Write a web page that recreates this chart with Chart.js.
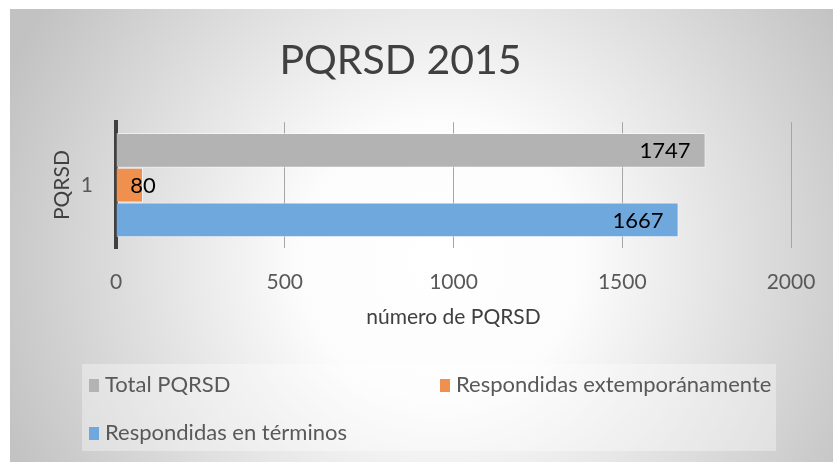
<!DOCTYPE html>
<html>
<head>
<meta charset="utf-8">
<script src="https://cdn.jsdelivr.net/npm/chart.js@4/dist/chart.umd.min.js"></script>
<style>
  html, body { margin: 0; padding: 0; background: #ffffff; }
  #wrap { width: 833px; height: 462px; position: relative; }
</style>
</head>
<body>
<div id="wrap"><canvas id="c" width="833" height="462"></canvas></div>
<script>
// ---- data ----
const categories = ["1"];
const seriesNames = ["Total PQRSD", "Respondidas extemporánamente", "Respondidas en términos"];
const totalValues = [1747];
const extemporaneasValues = [80];
const terminosValues = [1667];
const xTicks = [0, 500, 1000, 1500, 2000];
const chartTitle = "PQRSD 2015";
const xAxisTitle = "número de PQRSD";
const yAxisTitle = "PQRSD";

const colors = ["#b3b3b3", "#f0904f", "#6fa8dc"];
const FONT = "Lato, 'Open Sans', sans-serif";

const bgPlugin = {
  id: 'bg',
  beforeDraw(chart) {
    const ctx = chart.ctx;
    ctx.save();
    ctx.fillStyle = '#ffffff';
    ctx.fillRect(0, 0, chart.width, chart.height);
    const x0 = 10, y0 = 9, w = chart.width - x0, h = chart.height - y0;
    const g = ctx.createRadialGradient(440, 260, 0, 440, 260, 470);
    g.addColorStop(0, '#ffffff');
    g.addColorStop(0.3, '#fcfcfc');
    g.addColorStop(1, '#c2c2c2');
    ctx.fillStyle = g;
    ctx.fillRect(x0, y0, w, h);
    ctx.restore();
  }
};

const labelPlugin = {
  id: 'valueLabels',
  afterDatasetsDraw(chart) {
    const ctx = chart.ctx;
    ctx.save();
    ctx.font = "22px " + FONT;
    ctx.fillStyle = '#000000';
    ctx.textBaseline = 'middle';
    chart.data.datasets.forEach((ds, i) => {
      const meta = chart.getDatasetMeta(i);
      meta.data.forEach((bar, j) => {
        const v = ds.data[j];
        const txt = String(v);
        const tw = ctx.measureText(txt).width;
        const width = bar.x - bar.base;
        if (width > tw + 30) {
          ctx.textAlign = 'right';
          ctx.fillText(txt, bar.x - 15, bar.y + 1);
        } else {
          ctx.textAlign = 'center';
          ctx.fillText(txt, bar.x, bar.y + 1);
        }
      });
    });
    ctx.restore();
  }
};

const legendPlugin = {
  id: 'customLegend',
  afterDraw(chart) {
    const ctx = chart.ctx;
    ctx.save();
    ctx.fillStyle = 'rgba(255,255,255,0.35)';
    ctx.fillRect(82, 364, 694, 87);
    const pos = [[89, 385], [440, 385], [89, 433]];
    ctx.font = "22px " + FONT;
    ctx.textBaseline = 'middle';
    ctx.textAlign = 'left';
    chart.data.datasets.forEach((ds, i) => {
      const [x, y] = pos[i];
      ctx.fillStyle = ds.backgroundColor;
      ctx.fillRect(x, y - 6, 10, 13);
      ctx.fillStyle = '#595959';
      ctx.fillText(ds.label, x + 16, y);
    });
    ctx.restore();
  }
};

new Chart(document.getElementById('c'), {
  type: 'bar',
  data: {
    labels: categories,
    datasets: [
      { label: seriesNames[0], data: totalValues, backgroundColor: colors[0] },
      { label: seriesNames[1], data: extemporaneasValues, backgroundColor: colors[1] },
      { label: seriesNames[2], data: terminosValues, backgroundColor: colors[2] }
    ].map(d => Object.assign(d, {
      borderColor: 'rgba(255,255,255,0.55)', borderWidth: 1,
      categoryPercentage: 0.83, barPercentage: 1.0
    }))
  },
  options: {
    indexAxis: 'y',
    responsive: false,
    animation: false,
    devicePixelRatio: 1,
    layout: { padding: { left: 10, top: 9, right: 42, bottom: 124 } },
    plugins: {
      legend: { display: false },
      tooltip: { enabled: false },
      title: {
        display: true, text: chartTitle, color: '#404040',
        font: { family: FONT, size: 41, weight: 'normal', lineHeight: 1.2 },
        padding: { top: 27, bottom: 37 }
      }
    },
    scales: {
      x: {
        min: 0, max: 2000,
        afterBuildTicks(scale) { scale.ticks = xTicks.map(v => ({ value: v })); },
        afterFit(scale) { scale.height = 90; scale.paddingRight = 0; scale.paddingLeft = 0; },
        grid: { display: true, color: '#a6a6a6', lineWidth: 1, drawTicks: false },
        border: { display: false },
        ticks: { color: '#595959', font: { family: FONT, size: 21 }, padding: 22,
                 callback: (v) => String(v) },
        title: { display: true, text: xAxisTitle, color: '#404040',
                 font: { family: FONT, size: 21 }, padding: { top: 0, bottom: 8 } }
      },
      y: {
        afterFit(scale) { scale.width = 106; },
        grid: { display: false, drawTicks: false },
        border: { display: true, color: '#404040', width: 4 },
        ticks: { color: '#595959', font: { family: FONT, size: 21 }, padding: 23 },
        title: { display: true, text: yAxisTitle, color: '#404040',
                 font: { family: FONT, size: 21 }, padding: { top: 40, bottom: 0 } }
      }
    }
  },
  plugins: [bgPlugin, labelPlugin, legendPlugin]
});
</script>
</body>
</html>
